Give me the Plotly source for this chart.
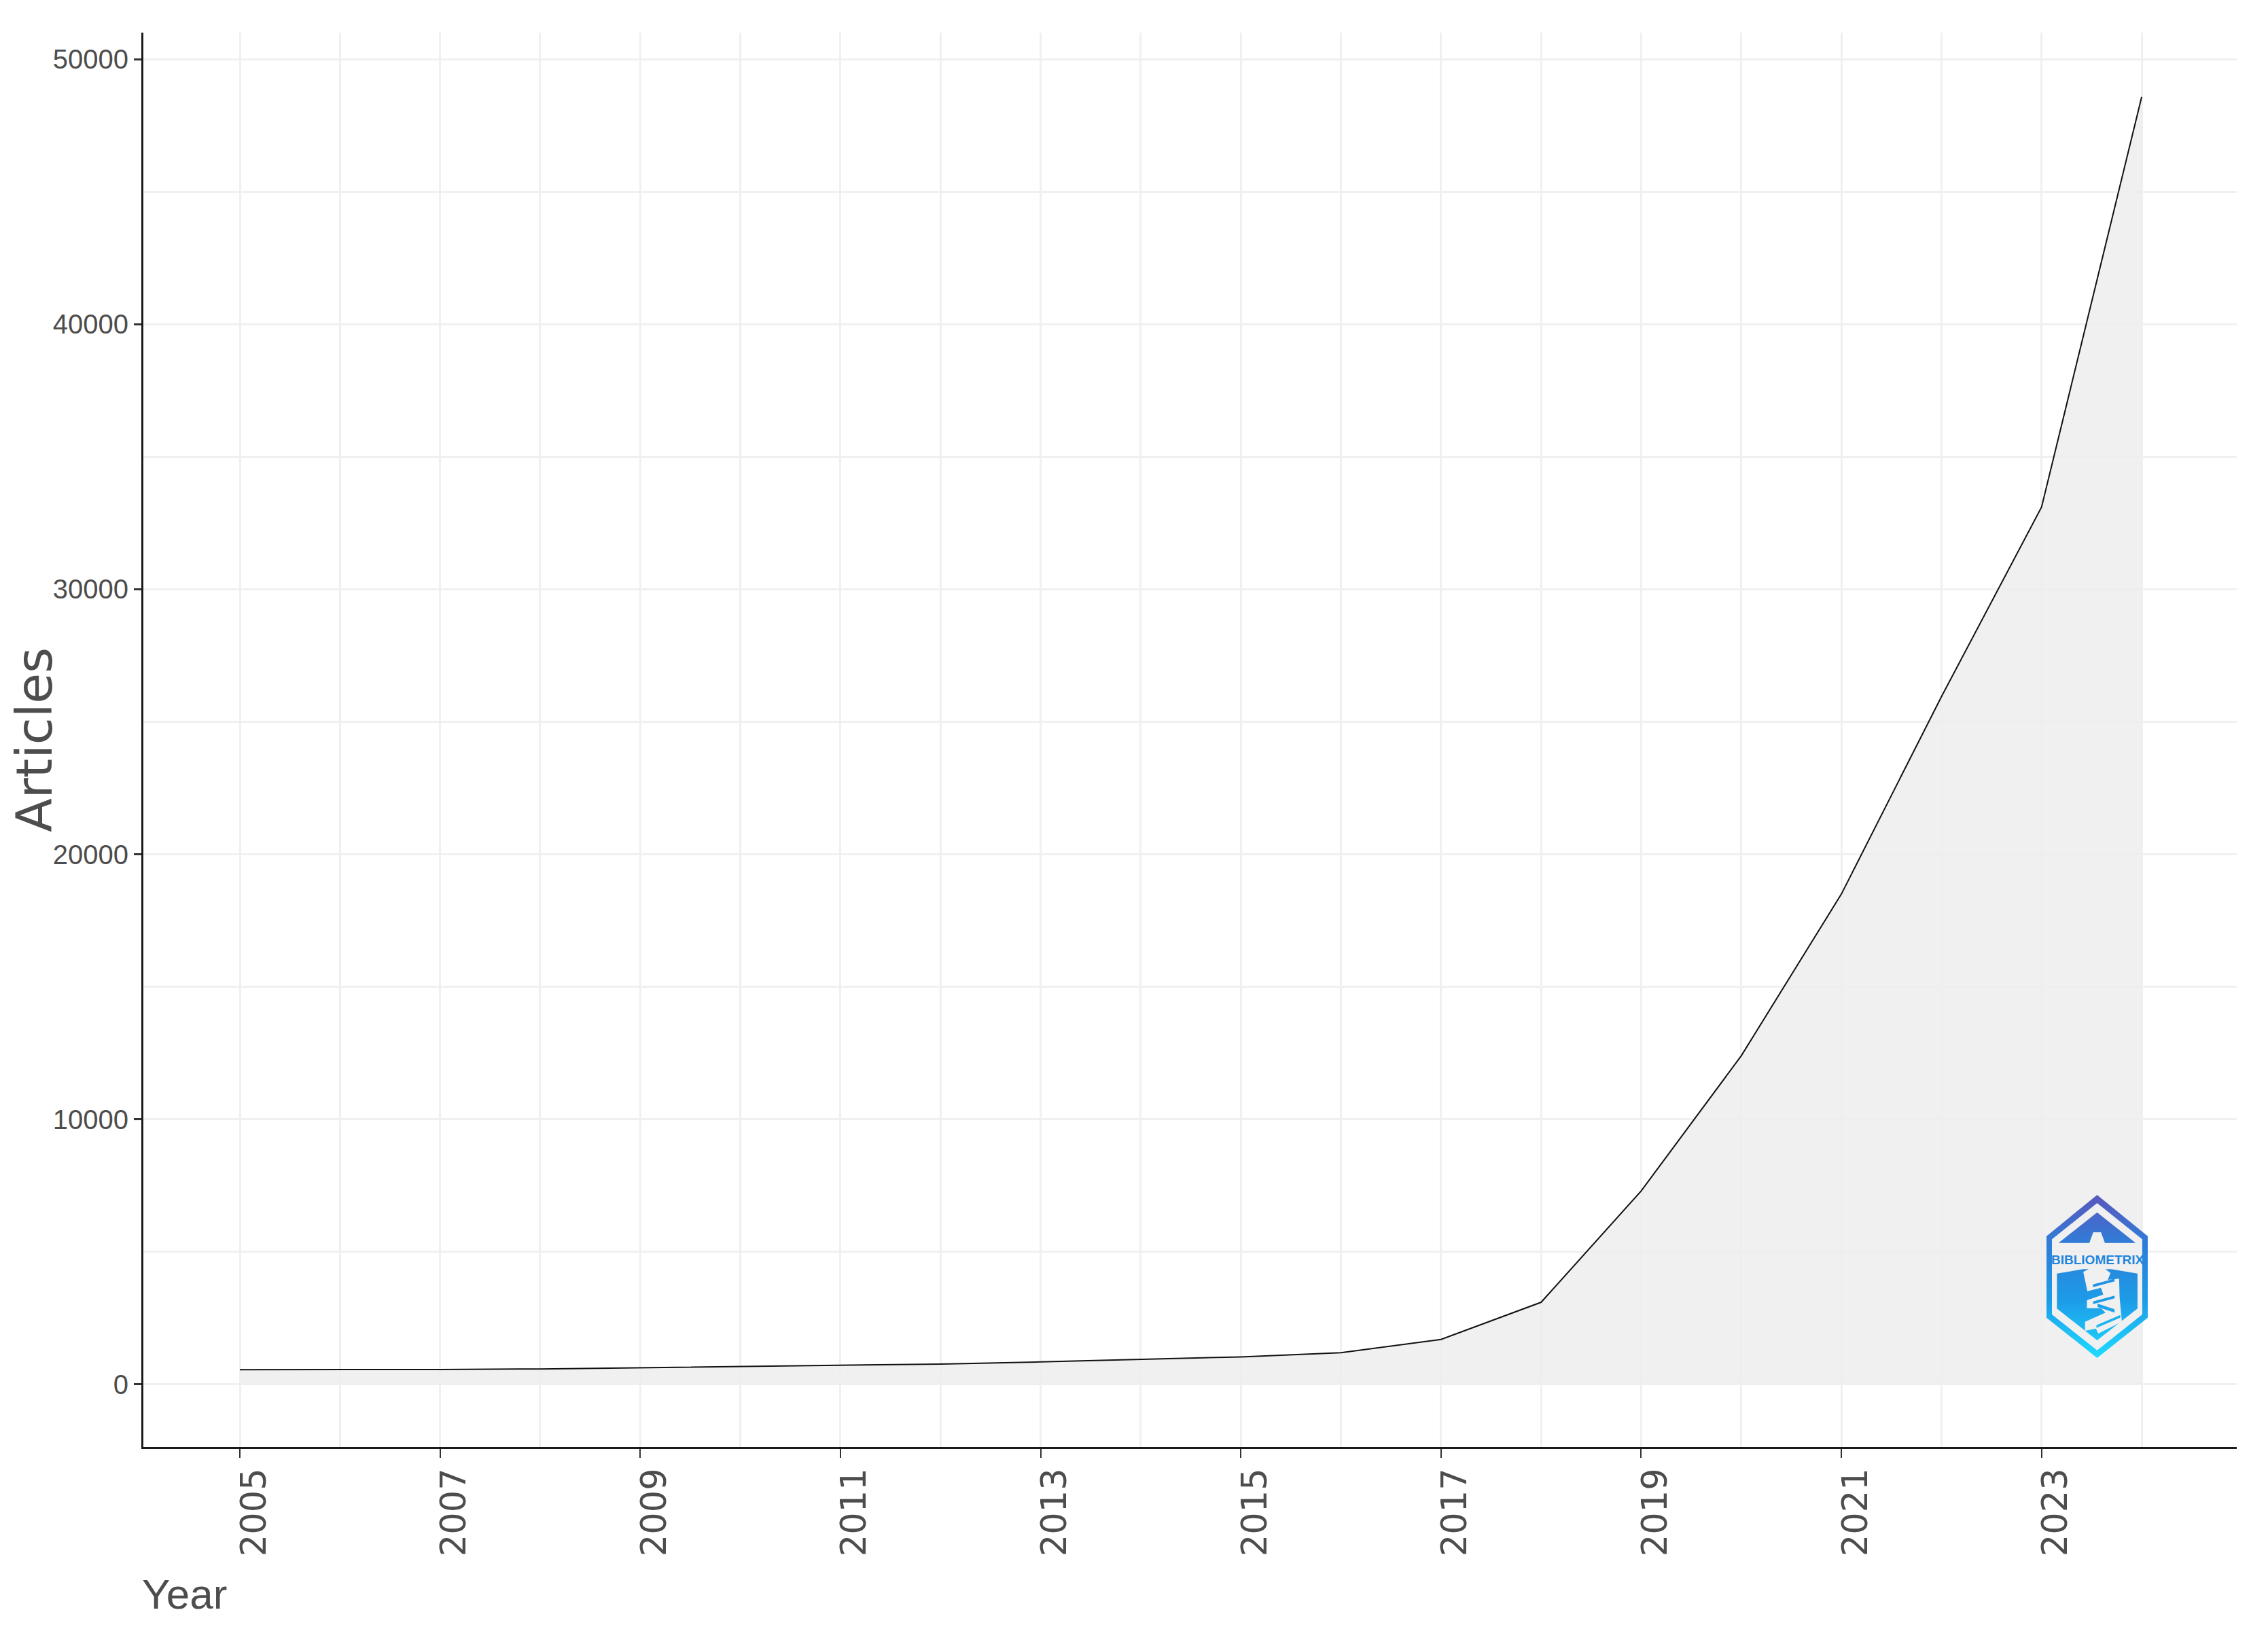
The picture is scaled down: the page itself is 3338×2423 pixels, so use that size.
import base64
import plotly.graph_objects as go

# ---- data ----
years = list(range(2005, 2025))
articles = [556, 558, 565, 585, 630, 680, 730, 770, 850, 940,
            1040, 1200, 1700, 3100, 7300, 12400, 18500, 25950, 33100, 48570]
x_ticks = list(range(2005, 2025, 2))
y_ticks = [0, 10000, 20000, 30000, 40000, 50000]
x_title = "Year"
y_title = "Articles"
logo_text = "BIBLIOMETRIX"

# ---- canvas (the page body adds an 8 px margin, so the figure sits 8 px in) ----
PAGE = 8
W, H = 3338 - 2 * PAGE, 2423 - 2 * PAGE
LEFT, RIGHT, TOP, BOTTOM = 211 - PAGE, 3292 - PAGE, 48 - PAGE, 2130 - PAGE
PW, PH = RIGHT - LEFT, BOTTOM - TOP
GRID = "#f0f0f0"
INK = "#4d4d4d"

# ---- package logo: hexagonal badge (artwork only, its lettering is real text below) ----
logo_svg = """<svg xmlns="http://www.w3.org/2000/svg" viewBox="0 0 446 720" width="446" height="720">
<defs><linearGradient id="g" gradientUnits="userSpaceOnUse" x1="0" y1="0" x2="0" y2="720">
<stop offset="0" stop-color="#5a57bd"/><stop offset="0.3" stop-color="#2f7dd8"/>
<stop offset="0.65" stop-color="#1c9ce8"/><stop offset="1" stop-color="#1fdcff"/></linearGradient></defs>
<path fill="url(#g)" fill-rule="evenodd" d="M223 0 L446 182 L446 542 L223 720 L0 542 L0 182 Z
 M223 36 L24 196 L24 528 L223 686 L422 528 L422 196 Z"/>
<path fill="url(#g)" d="M223 77 L393 212 L53 212 Z"/>
<path fill="url(#g)" d="M46 347 L160 328 L286 328 L401 347 L401 502 L223 642 L46 502 Z"/>
<path fill="#f0f0f0" d="M223 165 L240 165 L262 225 L262 250 L184 250 L184 225 L206 165 Z"/>
<path fill="#f0f0f0" d="M162 340 L200 320 L250 320 L282 345 L270 375 L320 370 L322 450 L332 560 L228 612 L218 590 L170 600 L170 560 L260 520 L240 500 L178 500 L178 465 L250 440 L240 410 L180 425 Z"/>
<path fill="url(#g)" d="M205 395 L300 370 L300 382 L205 407 Z M205 470 L300 445 L300 457 L205 482 Z M220 575 L325 530 L325 542 L220 587 Z M225 480 L300 505 L300 520 L225 495 Z"/>
</svg>"""
logo_uri = "data:image/svg+xml;base64," + base64.b64encode(logo_svg.encode()).decode()

fig = go.Figure()
fig.add_trace(go.Scatter(
    x=years, y=articles, mode="lines", fill="tozeroy",
    fillcolor="rgba(237,237,237,0.85)",
    line=dict(color="#111111", width=2, shape="linear"),
    showlegend=False,
))

fig.update_layout(
    width=W, height=H, autosize=False,
    paper_bgcolor="white", plot_bgcolor="white",
    margin=dict(l=LEFT, r=W - RIGHT, t=TOP, b=H - BOTTOM, pad=0, autoexpand=False),
    showlegend=False,
    xaxis=dict(
        range=[2004.036, 2024.95], tickmode="array", tickvals=x_ticks,
        ticktext=[str(v) for v in x_ticks], tickangle=-90,
        tickfont=dict(family="DejaVu Sans", size=51, color=INK),
        ticks="outside", ticklen=13, tickwidth=2, tickcolor="#333333",
        ticklabelstandoff=-5, ticklabelshift=21,
        showline=True, linecolor="#1a1a1a", linewidth=3,
        showgrid=True, gridcolor=GRID, gridwidth=3, zeroline=False,
        minor=dict(tickmode="array", tickvals=years, showgrid=True, gridcolor=GRID, gridwidth=3, ticks=""),
    ),
    yaxis=dict(
        range=[-2358, 51000], tickmode="array", tickvals=y_ticks,
        ticktext=[str(v) for v in y_ticks],
        tickfont=dict(family="Liberation Sans", size=40, color=INK),
        ticks="outside", ticklen=11, tickwidth=3, tickcolor="#333333",
        ticklabelstandoff=0,
        showline=True, linecolor="#1a1a1a", linewidth=3,
        showgrid=True, gridcolor=GRID, gridwidth=3, zeroline=False,
        minor=dict(tick0=0, dtick=5000, showgrid=True, gridcolor=GRID, gridwidth=3, ticks=""),
        title=dict(text=y_title, font=dict(family="DejaVu Sans", size=73, color=INK), standoff=46),
    ),
    annotations=[
        dict(text=x_title, xref="paper", yref="paper", x=0, y=(BOTTOM - (2346 - PAGE)) / PH,
             xanchor="left", yanchor="middle", showarrow=False, xshift=-4,
             font=dict(family="Liberation Sans", size=62, color=INK)),
        dict(text=logo_text, xref="paper", yref="paper",
             x=(3087 - PAGE - LEFT) / PW, y=(BOTTOM - (1854 - PAGE)) / PH,
             xanchor="center", yanchor="middle", showarrow=False,
             font=dict(family="Liberation Sans", size=19, color="#1f86de", weight="bold")),
    ],
    images=[dict(source=logo_uri, xref="paper", yref="paper",
                 x=(3012 - PAGE - LEFT) / PW, y=(BOTTOM - (1759 - PAGE)) / PH,
                 sizex=149 / PW, sizey=240 / PH, sizing="stretch",
                 xanchor="left", yanchor="top", layer="above")],
)

fig.write_html("out.html")
